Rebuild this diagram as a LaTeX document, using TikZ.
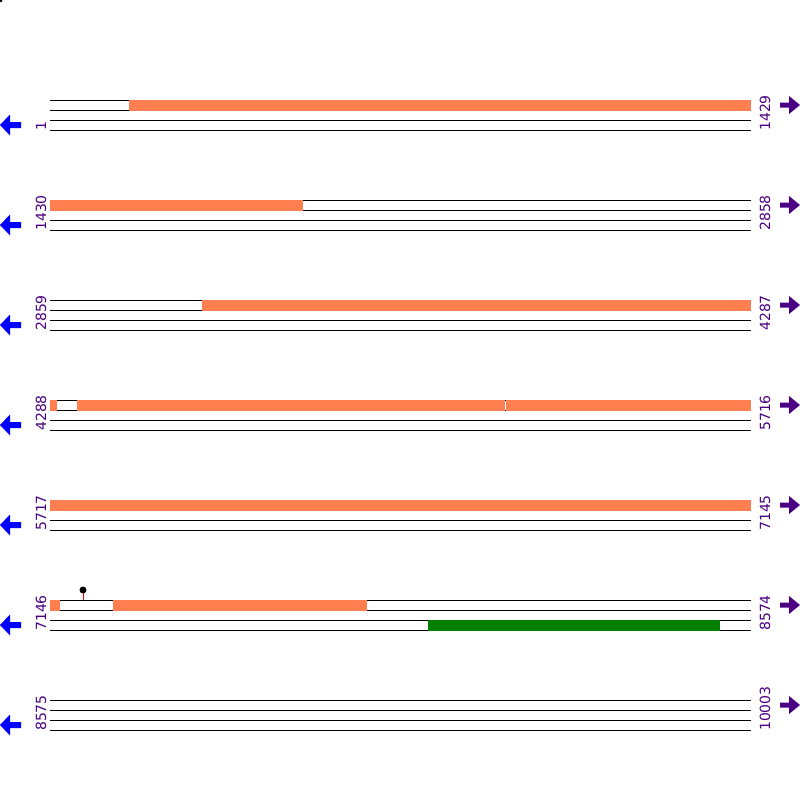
\documentclass[tikz,border=0pt]{standalone}
\usepackage{fontspec}
\setmainfont{DejaVu Sans}
\definecolor{coral}{HTML}{FF7F50}
\definecolor{darkgreen}{HTML}{008000}
\definecolor{indig}{HTML}{4B0082}
\definecolor{arrblue}{HTML}{0000FF}
\tikzset{
  track/.style={line width=1pt, black},
  cds/.style={fill=coral, draw=none},
  gfeat/.style={fill=darkgreen, draw=none},
  poslabel/.style={text=indig, rotate=90, anchor=west, inner sep=0pt, font=\fontsize{14}{14}\selectfont},
  larrow/.style={fill=arrblue, draw=none},
  rarrow/.style={fill=indig, draw=none}
}
\begin{document}
\begin{tikzpicture}[x=1pt,y=-1pt]
\useasboundingbox (0,0) rectangle (800,800);
\fill[black] (1,1) circle (1.5);
% tracks, labels and arrows for each row
\foreach \r/\a/\b in {100/1/1429, 200/1430/2858, 300/2859/4287, 400/4288/5716, 500/5717/7145, 600/7146/8574, 700/8575/10003}{
  \foreach \d in {0,10,20,30}{
    \draw[track] (50,\r+\d) -- (751,\r+\d);
  }
  \node[poslabel] at (41,\r+31) {\a};
  \node[poslabel] at (765,\r+31) {\b};
  \fill[larrow] (0,\r+25) -- (10,\r+14.5) -- (10,\r+22) -- (21,\r+22) -- (21,\r+28) -- (10,\r+28) -- (10,\r+35.5) -- cycle;
  \fill[rarrow] (800,\r+5) -- (789,\r-4) -- (789,\r+2.5) -- (780,\r+2.5) -- (780,\r+7.5) -- (789,\r+7.5) -- (789,\r+14) -- cycle;
}
% features
\fill[cds] (129,100) rectangle (751,110.5);
\fill[cds] (50,200) rectangle (303,210.5);
\fill[cds] (202,300) rectangle (751,310.5);
\fill[cds] (50,400) rectangle (57,410.5);
\fill[cds] (77,400) rectangle (505.2,410.5);
\fill[cds] (506,400) rectangle (751,410.5);
\fill[cds] (50,500) rectangle (751,510.5);
\fill[cds] (50,600) rectangle (60,610.5);
\fill[cds] (113,600) rectangle (367,610.5);
\fill[gfeat] (428,620) rectangle (720,630.5);
% lollipop
\draw[red, line width=1pt] (83,600) -- (83,590);
\fill[black] (83,590) circle (3.5);
\end{tikzpicture}
\end{document}
